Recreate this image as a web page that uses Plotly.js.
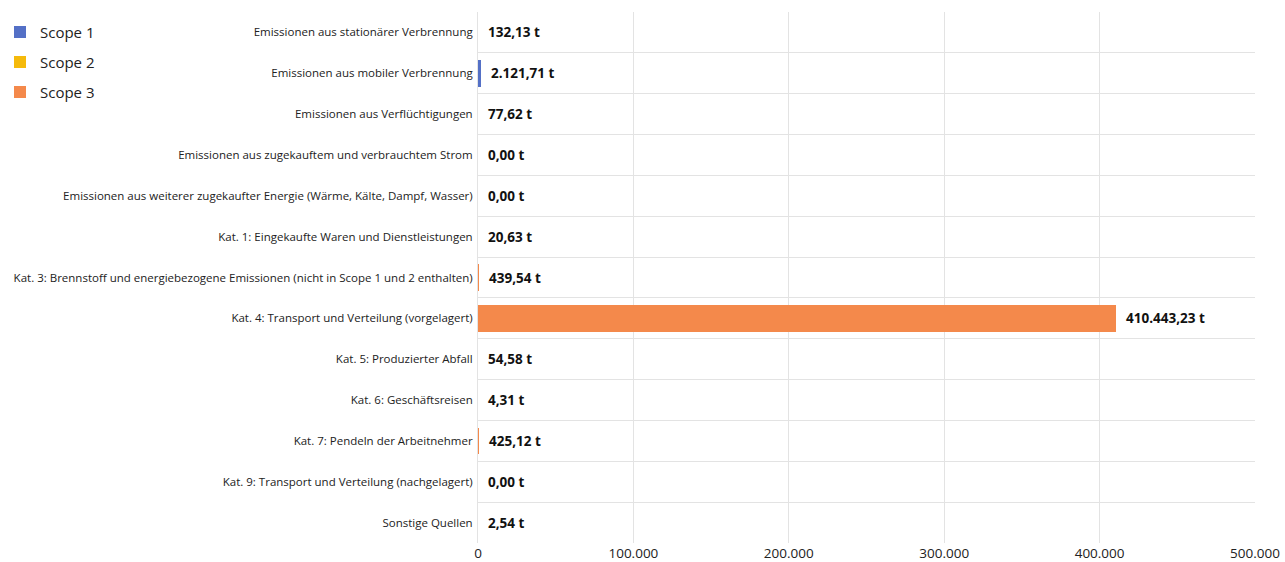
<!DOCTYPE html>
<html><head><meta charset="utf-8">
<script src="https://cdn.plot.ly/plotly-3.0.1.min.js"></script>
<style>html,body{margin:0;padding:0;background:#fff}#chart{width:1285px;height:562px}</style>
</head><body><div id="chart"></div>
<script>
const categories = [
  "Emissionen aus stationärer Verbrennung",
  "Emissionen aus mobiler Verbrennung",
  "Emissionen aus Verflüchtigungen",
  "Emissionen aus zugekauftem und verbrauchtem Strom",
  "Emissionen aus weiterer zugekaufter Energie (Wärme, Kälte, Dampf, Wasser)",
  "Kat. 1: Eingekaufte Waren und Dienstleistungen",
  "Kat. 3: Brennstoff und energiebezogene Emissionen (nicht in Scope 1 und 2 enthalten)",
  "Kat. 4: Transport und Verteilung (vorgelagert)",
  "Kat. 5: Produzierter Abfall",
  "Kat. 6: Geschäftsreisen",
  "Kat. 7: Pendeln der Arbeitnehmer",
  "Kat. 9: Transport und Verteilung (nachgelagert)",
  "Sonstige Quellen"
];
const values = [132.13, 2121.71, 77.62, 0, 0, 20.63, 439.54, 410443.23, 54.58, 4.31, 425.12, 0, 2.54];
const scopes = ["Scope 1","Scope 1","Scope 1","Scope 2","Scope 2","Scope 3","Scope 3","Scope 3","Scope 3","Scope 3","Scope 3","Scope 3","Scope 3"];
const scopeNames = ["Scope 1","Scope 2","Scope 3"];
const scopeColors = ["#5470C6","#F5BA0B","#F4894B"];
const xTickVals = [0,100000,200000,300000,400000,500000];

function fmtDE(v){
  const parts = v.toFixed(2).split(".");
  parts[0] = parts[0].replace(/\B(?=(\d{3})+(?!\d))/g, ".");
  return parts[0] + "," + parts[1] + " t";
}

const traces = scopeNames.map((s, si) => {
  const ys = [], xs = [];
  categories.forEach((c, i) => { if (scopes[i] === s) { ys.push(c); xs.push(values[i]); } });
  return {
    type: "bar", orientation: "h", name: s, legendgroup: s, y: ys, x: xs,
    marker: {color: scopeColors[si]}, width: 0.65, hoverinfo: "skip"
  };
});

const annotations = categories.map((c, i) => ({
  x: values[i], y: c, xref: "x", yref: "y", text: fmtDE(values[i]),
  showarrow: false, xanchor: "left", xshift: 8,
  font: {family: "Open Sans, Noto Sans, sans-serif", size: 13.5, color: "#111", weight: "bold"}
}));

const layout = {
  width: 1285, height: 562,
  margin: {l: 478, r: 30, t: 12, b: 19},
  paper_bgcolor: "#fff", plot_bgcolor: "#fff",
  barmode: "stack",
  separators: ",.",
  font: {family: "Open Sans, Noto Sans, sans-serif", color: "#333"},
  xaxis: {
    range: [0, 500000], tickvals: xTickVals, tickformat: ",d",
    showgrid: true, gridcolor: "#e3e3e3", zeroline: false,
    showline: false, tickfont: {size: 13.5, color: "#222"}, ticks: "", fixedrange: true
  },
  yaxis: {
    type: "category", categoryorder: "array", categoryarray: categories,
    autorange: "reversed", tickson: "boundaries", showgrid: true, gridcolor: "#e3e3e3",
    ticks: "", ticklen: 0, tickfont: {size: 11.5, color: "#222"}, ticklabelstandoff: 2,
    showline: true, linecolor: "#e3e3e3", zeroline: false, fixedrange: true
  },
  showlegend: true,
  legend: {
    xref: "container", yref: "container", x: 0, y: 0.972, xanchor: "left", yanchor: "top",
    font: {size: 15, color: "#222"}, tracegroupgap: 7.5, itemsizing: "constant", traceorder: "grouped"
  },
  annotations: annotations
};

Plotly.newPlot("chart", traces, layout, {displayModeBar: false, staticPlot: true});
</script>
</body></html>
